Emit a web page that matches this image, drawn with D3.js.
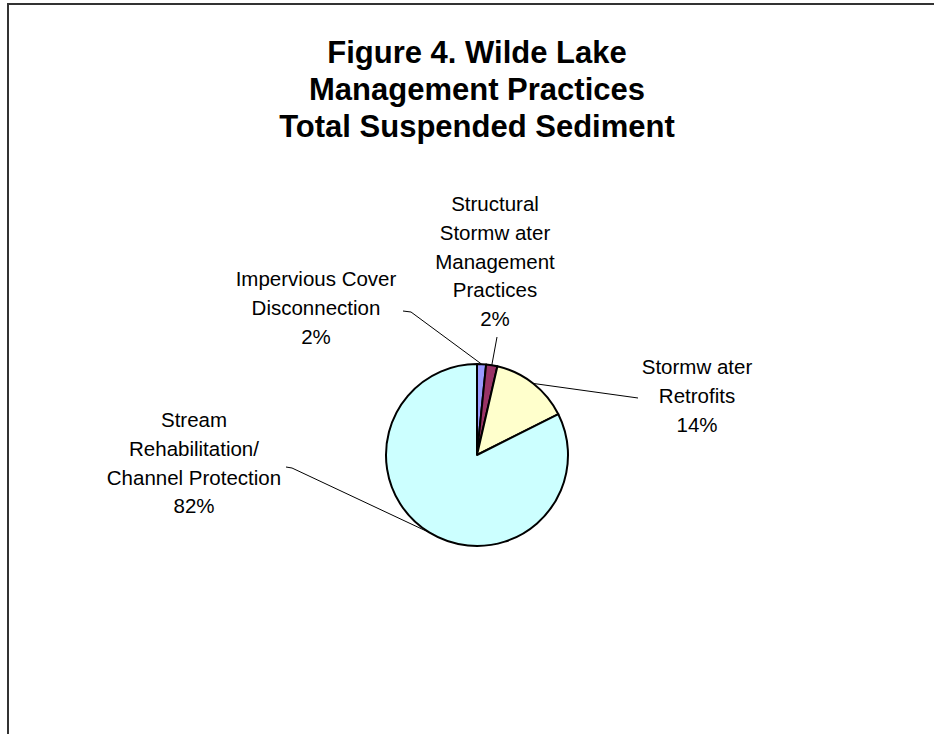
<!DOCTYPE html>
<html>
<head>
<meta charset="utf-8">
<script src="https://cdn.jsdelivr.net/npm/d3@7"></script>
<style>
  body { margin: 0; background: #fff; }
  svg { display: block; font-family: "Liberation Sans", Arial, sans-serif; }
</style>
</head>
<body>
<div id="chart"></div>
<script>
// data
const titleLines = ["Figure 4. Wilde Lake", "Management Practices", "Total Suspended Sediment"];
const categories = [
  "Impervious Cover Disconnection",
  "Structural Stormwater Management Practices",
  "Stormwater Retrofits",
  "Stream Rehabilitation/ Channel Protection"
];
const labelLines = [
  ["Impervious Cover", "Disconnection"],
  ["Structural", "Stormw ater", "Management", "Practices"],
  ["Stormw ater", "Retrofits"],
  ["Stream", "Rehabilitation/", "Channel Protection"]
];
const values = [1.6, 2.0, 14.0, 82.4];
const colors = ["#9999FF", "#993366", "#FFFFCC", "#CCFFFF"];

(function () {
  const width = 934, height = 734;
  const cx = 477, cy = 455, r = 91;

  const svg = d3.select("#chart").append("svg")
    .attr("width", width)
    .attr("height", height);

  // chart frame (runs off the page right and bottom)
  svg.append("rect")
    .attr("x", 8).attr("y", 4)
    .attr("width", 1000).attr("height", 1000)
    .attr("fill", "none")
    .attr("stroke", "#333")
    .attr("stroke-width", 2);

  // title
  svg.append("text")
    .attr("x", 477)
    .attr("text-anchor", "middle")
    .attr("font-size", "31px")
    .attr("font-weight", "bold")
    .selectAll("tspan")
    .data(titleLines)
    .join("tspan")
    .attr("x", 477)
    .attr("y", (d, i) => 63 + i * 37)
    .text((d) => d);

  const total = d3.sum(values);
  const pie = d3.pie().sort(null).value((d) => d)(values);
  const arc = d3.arc().innerRadius(0).outerRadius(r);

  const g = svg.append("g").attr("transform", `translate(${cx},${cy})`);

  g.selectAll("path")
    .data(pie)
    .join("path")
    .attr("d", arc)
    .attr("fill", (d, i) => colors[i])
    .attr("stroke", "#000")
    .attr("stroke-width", 2)
    .attr("stroke-linejoin", "round");

  // label layout: centre x, first baseline, leader line start points (page coords)
  const layout = [
    { x: 316, y: 286, line: [[403, 311], [411, 312]] },
    { x: 495, y: 211, line: [[497, 337]] },
    { x: 697, y: 374, line: [[638, 398]] },
    { x: 194, y: 427, line: [[286, 467], [292, 468]] }
  ];
  const lh = 28.8;

  pie.forEach((p, i) => {
    const L = layout[i];
    const a = (p.startAngle + p.endAngle) / 2;
    const edge = [cx + r * Math.sin(a), cy - r * Math.cos(a)];
    svg.append("path")
      .attr("d", d3.line()(L.line.concat([edge])))
      .attr("fill", "none")
      .attr("stroke", "#000")
      .attr("stroke-width", 1);

    const lines = labelLines[i].concat([Math.round((values[i] / total) * 100) + "%"]);
    svg.append("text")
      .attr("text-anchor", "middle")
      .attr("font-size", "20.5px")
      .attr("fill", "#000")
      .selectAll("tspan")
      .data(lines)
      .join("tspan")
      .attr("x", L.x)
      .attr("y", (d, j) => L.y + j * lh)
      .text((d) => d);
  });
})();
</script>
</body>
</html>
